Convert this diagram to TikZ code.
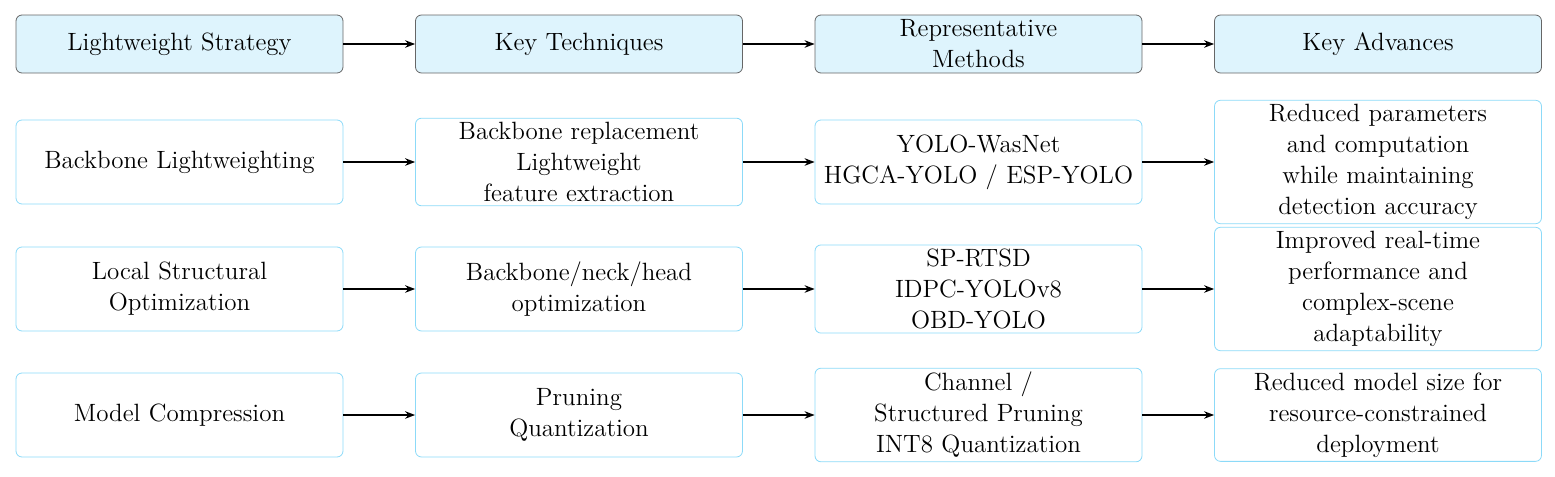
\documentclass[tikz,border=0pt]{standalone}
\usepackage{mathpazo}
\usetikzlibrary{arrows.meta}
\begin{document}
\begin{tikzpicture}[x=0.5pt,y=-0.5pt,
 base/.style={rounded corners=3pt,minimum width=163.5pt,minimum height=42pt,align=center,text width=155pt,font=\fontsize{12.5}{15.5}\selectfont,inner sep=2pt},
 hd/.style={base,draw=gray!80!black,fill=cyan!13,minimum height=29pt,font=\fontsize{12.5}{15.5}\selectfont\bfseries},
 bx/.style={base,draw=cyan!45},
 ar/.style={-{Stealth[length=5pt]},thick}]
\useasboundingbox (0,0) rectangle (1555,477);
\def\ca{179.5}\def\cb{579}\def\cc{978.5}\def\cd{1378}
\node[hd] (h1) at (\ca,44) {Lightweight Strategy};
\node[hd] (h2) at (\cb,44) {Key Techniques};
\node[hd] (h3) at (\cc,44) {Representative\\Methods};
\node[hd] (h4) at (\cd,44) {Key Advances};
\node[bx] (a1) at (\ca,162) {Backbone Lightweighting};
\node[bx] (a2) at (\cb,162) {Backbone replacement\\Lightweight\\feature extraction};
\node[bx] (a3) at (\cc,162) {YOLO-WasNet\\HGCA-YOLO / ESP-YOLO};
\node[bx] (a4) at (\cd,162) {Reduced parameters\\and computation\\while maintaining\\detection accuracy};
\node[bx] (b1) at (\ca,289) {Local Structural\\Optimization};
\node[bx] (b2) at (\cb,289) {Backbone/neck/head\\optimization};
\node[bx] (b3) at (\cc,289) {SP-RTSD\\IDPC-YOLOv8\\OBD-YOLO};
\node[bx] (b4) at (\cd,289) {Improved real-time\\performance and\\complex-scene\\adaptability};
\node[bx] (c1) at (\ca,415) {Model Compression};
\node[bx] (c2) at (\cb,415) {Pruning\\Quantization};
\node[bx] (c3) at (\cc,415) {Channel /\\Structured Pruning\\INT8 Quantization};
\node[bx] (c4) at (\cd,415) {Reduced model size for\\resource-constrained\\deployment};
\foreach \r in {h,a,b,c}{
 \draw[ar] (\r1) -- (\r2); \draw[ar] (\r2) -- (\r3); \draw[ar] (\r3) -- (\r4);}
\end{tikzpicture}
\end{document}
